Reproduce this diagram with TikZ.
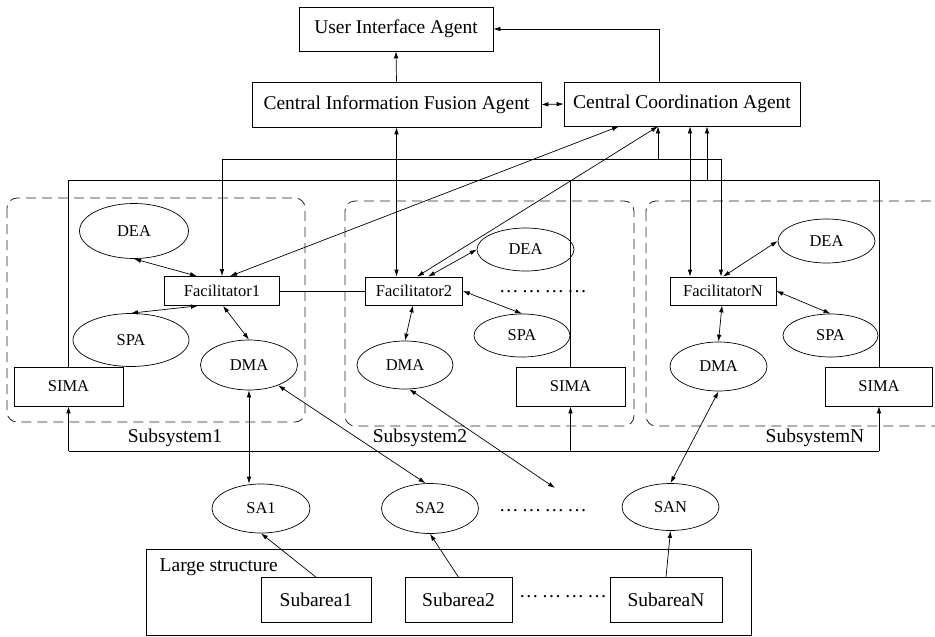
\documentclass[tikz,border=0pt]{standalone}
\usepackage{fontspec}
\setmainfont{Liberation Serif}
\usetikzlibrary{arrows.meta,shapes.geometric}
\begin{document}
\begin{tikzpicture}[x=1pt,y=-1pt,
  >={Latex[length=7pt,width=4.5pt]},
  every path/.style={line width=0.7pt},
  bigtxt/.style={font=\fontsize{19.5}{21}\selectfont},
  smalltxt/.style={font=\fontsize{16.5}{18}\selectfont},
  bigbox/.style={draw, rectangle, inner sep=0pt, bigtxt},
  smallbox/.style={draw, rectangle, inner sep=0pt, smalltxt},
  agent/.style={draw, ellipse, inner sep=0pt, smalltxt},
  subsys/.style={draw=black!85, line width=0.8pt, dash pattern=on 10pt off 6pt, rounded corners=10pt},
  link/.style={<->}
]
\useasboundingbox (0,0) rectangle (935,637);

% dashed subsystem frames
\draw[subsys] (7,198) rectangle (305,422);
\draw[subsys] (345,201) rectangle (634,426);
\draw[subsys] (646,201) rectangle (975,426);
% large structure frame
\draw (146,549) rectangle (751,635);

% top agents
\node[bigbox, minimum width=194pt, minimum height=44pt] (uia) at (396,29) {User Interface Agent};
\node[bigbox, minimum width=289pt, minimum height=45pt] (cifa) at (396.5,104.5) {Central Information Fusion Agent};
\node[bigbox, minimum width=236pt, minimum height=44pt] (cca) at (682,104) {Central Coordination Agent};

% subsystem 1
\node[agent, minimum width=109pt, minimum height=55pt] (dea1) at (134,231) {DEA};
\node[smallbox, minimum width=115pt, minimum height=29pt] (fac1) at (222,291) {Facilitator1};
\node[agent, minimum width=116pt, minimum height=53pt] (spa1) at (131,340) {SPA};
\node[agent, minimum width=97pt, minimum height=50pt] (dma1) at (249,365) {DMA};
\node[smallbox, minimum width=109pt, minimum height=39pt] (sima1) at (68.5,386.5) {SIMA};

% subsystem 2
\node[smallbox, minimum width=97pt, minimum height=28pt] (fac2) at (414,291) {Facilitator2};
\node[agent, minimum width=97pt, minimum height=43pt] (dea2) at (525.5,249.5) {DEA};
\node[agent, minimum width=96pt, minimum height=43pt] (spa2) at (522,335.5) {SPA};
\node[agent, minimum width=96pt, minimum height=48pt] (dma2) at (405,365) {DMA};
\node[smallbox, minimum width=109pt, minimum height=39pt] (sima2) at (570.5,386.5) {SIMA};
\node[bigtxt, anchor=base] (dots1) at (543,292) {…\,…\,…\,…};

% subsystem N
\node[smallbox, minimum width=106pt, minimum height=28pt] (facN) at (723,291) {FacilitatorN};
\node[agent, minimum width=97pt, minimum height=44pt] (deaN) at (826.5,241) {DEA};
\node[agent, minimum width=95pt, minimum height=43pt] (spaN) at (830.5,335.5) {SPA};
\node[agent, minimum width=97pt, minimum height=49pt] (dmaN) at (718.5,366.5) {DMA};
\node[smallbox, minimum width=107pt, minimum height=39pt] (simaN) at (879,386.5) {SIMA};

% subsystem labels
\node[bigtxt] (lab1) at (175,438) {Subsystem1};
\node[bigtxt] (lab2) at (420,438) {Subsystem2};
\node[bigtxt] (labN) at (815,438) {SubsystemN};

% sensor agents
\node[agent, minimum width=98pt, minimum height=49pt] (sa1) at (261,508.5) {SA1};
\node[agent, minimum width=97pt, minimum height=50pt] (sa2) at (430,508.5) {SA2};
\node[agent, minimum width=97pt, minimum height=47pt] (san) at (670.5,507) {SAN};
\node[bigtxt, anchor=base] (dots2) at (543,511) {…\,…\,…\,…};
\coordinate (dotsend) at (555,488);

% large structure
\node[bigtxt, anchor=west] (large) at (156,567) {Large structure};
\node[bigbox, minimum width=110pt, minimum height=45pt] (sub1) at (316,600) {Subarea1};
\node[bigbox, minimum width=107pt, minimum height=45pt] (sub2) at (458.5,600) {Subarea2};
\node[bigbox, minimum width=112pt, minimum height=45pt] (subN) at (666,600) {SubareaN};
\node[bigtxt, anchor=base] (dots3) at (563,597) {…\,…\,…\,…};

% helper levels
\coordinate (bus) at (0,159);
\coordinate (toplvl) at (0,180);
\coordinate (botlvl) at (0,451);

% top connections
\draw[->] (cifa.north) -- (uia.south);
\draw[link] (cifa.east) -- (cca.west);
\draw[->] ([xshift=-23pt]cca.north) |- (uia.east);
\draw[link] (cifa.south) -- (cifa.south |- fac2.north);
\draw[link] ([xshift=8pt]fac1.north) -- ([xshift=-63pt]cca.south);
\draw[link] ([xshift=3pt]fac2.north) -- ([xshift=-24pt]cca.south);
\draw[link] (fac1.north) -- (fac1.north |- bus) -- ([xshift=-2pt]facN.north |- bus) -- ([xshift=-2pt]facN.north);
\draw[->] ([xshift=-24pt]cca.south |- bus) -- ([xshift=-24pt]cca.south);
\draw[link] ([xshift=8pt]cca.south) -- ([xshift=8pt]cca.south |- facN.north);
\draw[->] ([xshift=25pt]cca.south |- toplvl) -- ([xshift=25pt]cca.south);

% SIMA loop
\draw (sima1.north) -- (sima1.north |- toplvl) -- (simaN.north |- toplvl) -- (simaN.north);
\draw (sima2.north) -- (sima2.north |- toplvl);
\draw (sima1.south |- botlvl) -- (simaN.south |- botlvl);
\draw[->] (sima1.south |- botlvl) -- (sima1.south);
\draw[->] (sima2.south |- botlvl) -- (sima2.south);
\draw[->] (simaN.south |- botlvl) -- (simaN.south);

% subsystem 1 links
\draw[link] (dea1.south) -- ([xshift=-25pt]fac1.north);
\draw[link] (spa1.north) -- ([xshift=-24pt]fac1.south);
\draw[link] ([xshift=1pt]fac1.south) -- (dma1.north);
\draw (fac1.east) -- (fac2.west);

% subsystem 2 links
\draw[link] ([xshift=14pt]fac2.north) -- (dea2.west);
\draw[link] (fac2.east) -- (spa2.north);
\draw[link] ([xshift=-1pt]fac2.south) -- (dma2.north);

% subsystem N links
\draw[link] (facN.north) -- (deaN.west);
\draw[link] (facN.east) -- (spaN.north);
\draw[link] ([xshift=-1pt]facN.south) -- (dmaN.north);

% DMA to sensor agents
\draw[link] (dma1.south) -- (dma1.south |- sa1.north);
\draw[link] (dma1.-35) -- (sa2.100);
\draw[link] (dma2.-80) -- (dotsend);
\draw[link] (dmaN.south) -- (san.north);

% subareas to sensor agents
\draw[->] (sub1.north) -- (sa1.south);
\draw[->] (sub2.north) -- (sa2.south);
\draw[->] (subN.north) -- (san.south);
\end{tikzpicture}
\end{document}
